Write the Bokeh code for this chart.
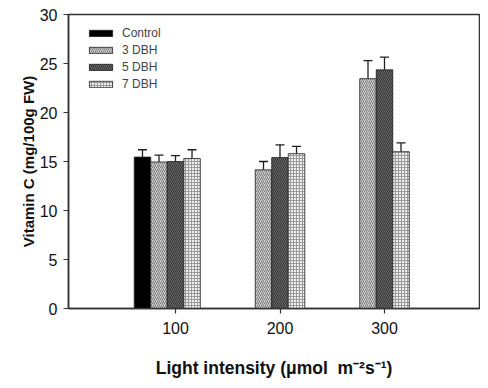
from bokeh.plotting import figure
from bokeh.models import ColumnDataSource, Whisker, TeeHead, FixedTicker, Legend, LegendItem, Range1d
from bokeh.embed import file_html
from bokeh.resources import INLINE

categories = ["100", "200", "300"]
series_names = ["Control", "3 DBH", "5 DBH", "7 DBH"]
control = [15.45, None, None]
dbh3 = [14.95, 14.15, 23.45]
dbh5 = [15.0, 15.4, 24.35]
dbh7 = [15.3, 15.8, 16.0]
control_err = [0.75, None, None]
dbh3_err = [0.7, 0.85, 1.85]
dbh5_err = [0.6, 1.3, 1.3]
dbh7_err = [0.9, 0.75, 0.9]
y_ticks = [0, 5, 10, 15, 20, 25, 30]

values = [control, dbh3, dbh5, dbh7]
errors = [control_err, dbh3_err, dbh5_err, dbh7_err]
styles = [
    dict(fill_color="#000000"),
    dict(fill_color="#cfcfcf", hatch_pattern="/", hatch_color="#7a7a7a", hatch_scale=4, hatch_weight=1),
    dict(fill_color="#6a6a6a", hatch_pattern="\\", hatch_color="#333333", hatch_scale=4, hatch_weight=1),
    dict(fill_color="#f0f0f0", hatch_pattern="+", hatch_color="#9a9a9a", hatch_scale=3, hatch_weight=1),
]
offsets = [-2, -1, 0, 1]
bw = 0.158

FONT = "Liberation Sans"

p = figure(width=480, height=380, output_backend="svg", toolbar_location=None,
           x_range=Range1d(-0.024, 3.909), y_range=Range1d(0, 30),
           min_border_left=68, min_border_top=14, min_border_right=1, min_border_bottom=70)
p.xgrid.visible = False
p.ygrid.visible = False
p.outline_line_color = "#333333"
p.outline_line_width = 1.5
p.background_fill_color = "white"
p.border_fill_color = "white"

items = []
for i, name in enumerate(series_names):
    xs, tops, errs = [], [], []
    for j, v in enumerate(values[i]):
        if v is None:
            continue
        xs.append(j + 1 + offsets[i] * bw)
        tops.append(v)
        errs.append(v + errors[i][j])
    src = ColumnDataSource(dict(x=xs, top=tops, up=errs))
    r = p.vbar(x="x", top="top", bottom=0, width=bw, source=src,
               line_color="#202020", line_width=0.8, **styles[i])
    items.append(LegendItem(label=name, renderers=[r]))
    w = Whisker(base="x", lower="top", upper="up", source=src, dimension="height",
                line_color="#202020", line_width=1.3,
                upper_head=TeeHead(size=9, line_color="#202020", line_width=1.3), lower_head=None)
    p.add_layout(w)

legend = Legend(items=items, location=(18, 216), margin=0, padding=0,
                glyph_width=29, glyph_height=8, label_height=16, spacing=1,
                label_standoff=7, label_text_font=FONT, label_text_font_size="12px",
                border_line_alpha=0, background_fill_alpha=0)
p.add_layout(legend)

p.xaxis.ticker = FixedTicker(ticks=[1, 2, 3])
p.xaxis.major_label_overrides = {k + 1: c for k, c in enumerate(categories)}
p.yaxis.ticker = FixedTicker(ticks=y_ticks)

for ax in (p.xaxis[0], p.yaxis[0]):
    ax.axis_line_color = "#333333"
    ax.axis_line_width = 1.5
    ax.major_tick_line_color = "#333333"
    ax.major_tick_line_width = 1.2
    ax.major_tick_out = 5
    ax.major_tick_in = 0
    ax.minor_tick_line_color = None
    ax.major_label_text_font = FONT
    ax.major_label_text_font_size = "16px"
    ax.major_label_text_color = "#111111"
    ax.axis_label_text_font = FONT
    ax.axis_label_text_font_style = "bold"
    ax.axis_label_text_color = "#111111"

p.xaxis.axis_label = "Light intensity (μmol\u00a0\u00a0m⁻²s⁻¹)"
p.yaxis.axis_label = "Vitamin C (mg/100g FW)"
p.xaxis.axis_label_text_font_size = "17.5px"
p.yaxis.axis_label_text_font_size = "15px"
p.xaxis.major_label_standoff = 8
p.xaxis.axis_label_standoff = 21
p.yaxis.major_label_standoff = 6
p.yaxis.axis_label_standoff = 0

open("out.html", "w").write(file_html(p, INLINE))
